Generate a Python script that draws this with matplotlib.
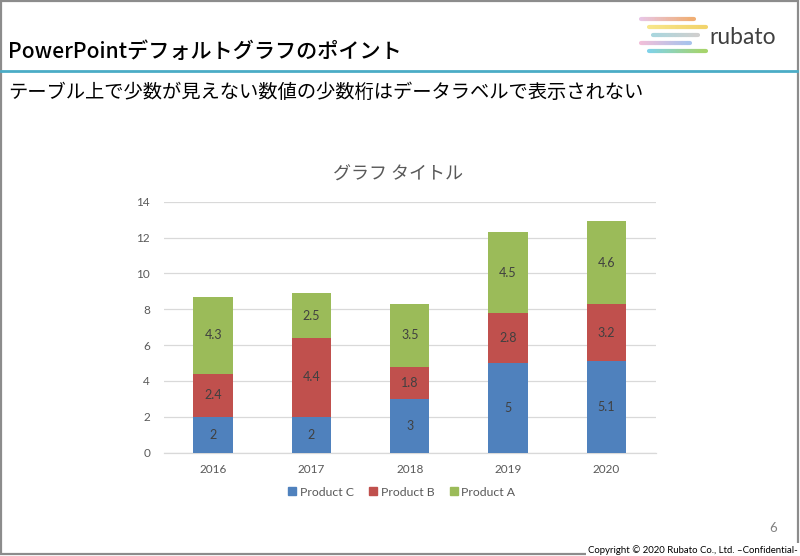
import numpy as np
import matplotlib
matplotlib.use("Agg")
import matplotlib.pyplot as plt
from matplotlib.lines import Line2D
from matplotlib.collections import LineCollection
from matplotlib.patches import Rectangle

plt.rcParams['font.family'] = ['Noto Sans CJK JP', 'DejaVu Sans']

# chart data
years = ['2016', '2017', '2018', '2019', '2020']
product_c = [2, 2, 3, 5, 5.1]
product_b = [2.4, 4.4, 1.8, 2.8, 3.2]
product_a = [4.3, 2.5, 3.5, 4.5, 4.6]
series_names = ['Product C', 'Product B', 'Product A']
series_colors = ['#4f81bd', '#c0504d', '#9bbb59']
y_ticks = [0, 2, 4, 6, 8, 10, 12, 14]

W, H = 800, 556
fig = plt.figure(figsize=(8, 5.56), dpi=100)


def fx(px):
    return px / W


def fy(py):
    return 1 - py / H


# slide frame
fig.patches.append(Rectangle((0.001, 0.003), 0.996, 0.995, transform=fig.transFigure,
                             fill=False, edgecolor='#8c8c8c', linewidth=1.6))

# header
fig.text(fx(8), fy(52), 'PowerPointデフォルトグラフのポイント', fontsize=15.2,
         fontweight='medium', color='black', va='center', ha='left')
fig.add_artist(Line2D([fx(1), fx(797)], [fy(71), fy(71)], transform=fig.transFigure,
                      color='#4bacc6', linewidth=2))
fig.text(fx(8), fy(92), 'テーブル上で少数が見えない数値の少数桁はデータラベルで表示されない',
         fontsize=13.9, color='black', va='center', ha='left')

# logo stripes (gradient)
stripes = [
    (641, 694, 19, '#e8c6e6', '#f0ae74'),
    (649, 706, 27, '#f7e68a', '#f2d46c'),
    (653, 698, 35, '#a9d6de', '#cfcfcf'),
    (641, 690, 43, '#f2bfd9', '#a9c3ec'),
    (649, 706, 51, '#80d2ea', '#a6d46c'),
]
for x0, x1, yy, c0, c1 in stripes:
    xs = np.linspace(fx(x0), fx(x1), 30)
    segs = [[(xs[i], fy(yy)), (xs[i + 1], fy(yy))] for i in range(len(xs) - 1)]
    cols = [matplotlib.colors.to_rgb(c0), matplotlib.colors.to_rgb(c1)]
    t = np.linspace(0, 1, len(segs))
    seg_cols = [tuple((1 - k) * np.array(cols[0]) + k * np.array(cols[1])) for k in t]
    lc = LineCollection(segs, colors=seg_cols, linewidths=3.0, capstyle='round',
                        transform=fig.transFigure)
    fig.add_artist(lc)
fig.text(fx(709), fy(38), 'rubato', fontsize=16.5, color='#404040', family='Lato',
         va='center', ha='left')

# chart
ax = fig.add_axes([fx(164), fy(452.7), (655.5 - 164) / W, (452.7 - 201.7) / H])
x = np.arange(len(years))
bottom = np.zeros(len(years))
for name, vals, col in zip(series_names, [product_c, product_b, product_a], series_colors):
    bars = ax.bar(x, vals, width=0.4, bottom=bottom, color=col, label=name, zorder=3)
    for xi, b, v in zip(x, bottom, vals):
        ax.text(xi, b + v / 2, f'{v:g}', ha='center', va='center', fontsize=9,
                color='#404040', family='Lato', zorder=4)
    bottom = bottom + np.array(vals)

ax.set_xlim(-0.5, len(years) - 0.5)
ax.set_ylim(0, 14)
ax.set_yticks(y_ticks)
ax.set_xticks(x)
ax.set_xticklabels(years)
ax.grid(axis='y', color='#d9d9d9', linewidth=0.9, zorder=0)
for s in ['top', 'right', 'left']:
    ax.spines[s].set_visible(False)
ax.spines['bottom'].set_color('#d9d9d9')
ax.spines['bottom'].set_linewidth(0.9)
ax.tick_params(axis='both', length=0, labelsize=8.5, labelcolor='#595959')
ax.tick_params(axis='y', pad=10)
ax.tick_params(axis='x', pad=8)
for lbl in ax.get_xticklabels() + ax.get_yticklabels():
    lbl.set_family('Lato')

fig.text(fx(398), fy(175), 'グラフ タイトル', fontsize=13, color='#595959',
         ha='center', va='center')

handles = [Line2D([0], [0], marker='s', linestyle='', markersize=5.5,
                  markerfacecolor=c, markeredgecolor=c, label=n)
           for n, c in zip(series_names, series_colors)]
leg = fig.legend(handles=handles, loc='center', bbox_to_anchor=(fx(402), fy(492)),
                 ncol=3, frameon=False, handlelength=0.6, handletextpad=0.3,
                 columnspacing=1.3, prop={'family': 'Lato', 'size': 8.8})
for t in leg.get_texts():
    t.set_color('#595959')

# footer
fig.text(fx(773), fy(528), '6', fontsize=9.5, color='#808080', family='Lato',
         ha='center', va='center')
fig.text(fx(798), fy(550), 'Copyright © 2020 Rubato Co., Ltd. –Confidential-', fontsize=6.9,
         color='black', family='Lato', ha='right', va='center',
         bbox=dict(facecolor='white', edgecolor='none', pad=1.5))

fig.savefig('out.png', dpi=100)
